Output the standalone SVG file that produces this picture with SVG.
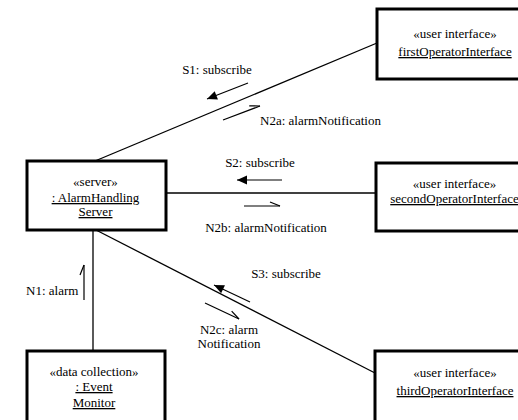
<svg xmlns="http://www.w3.org/2000/svg" width="518" height="420" viewBox="0 0 518 420">
<style>
text{font-family:"Liberation Serif","Times New Roman",serif;font-size:13px;fill:#000}
.c{text-anchor:middle}
.u{text-decoration:underline}
.box{fill:#fff;stroke:#000;stroke-width:3}
.ln{stroke:#000;stroke-width:1.3;fill:none}
.msg{stroke:#000;stroke-width:1.2;fill:none}
</style>
<defs>
<marker id="fa" markerUnits="userSpaceOnUse" markerWidth="11" markerHeight="9" refX="10" refY="4.5" orient="auto" overflow="visible">
<path d="M0,0 L10,4.5 L0,9 z" fill="#000"/>
</marker>
<marker id="ha" markerUnits="userSpaceOnUse" markerWidth="11" markerHeight="6" refX="10" refY="4" orient="auto" overflow="visible">
<path d="M10,4 L0,0" stroke="#000" stroke-width="1.2" fill="none"/>
</marker>
</defs>
<g id="connectors">
<line class="ln" x1="95" y1="161" x2="377" y2="43"/>
<line class="ln" x1="166" y1="193" x2="376" y2="193"/>
<line class="ln" x1="96" y1="230" x2="375" y2="373"/>
<line class="ln" x1="93" y1="230" x2="93" y2="351"/>
<line class="msg" x1="248" y1="83" x2="207" y2="99" marker-end="url(#fa)"/>
<line class="msg" x1="223" y1="120" x2="260" y2="106" marker-end="url(#ha)"/>
<line class="msg" x1="282" y1="180" x2="237" y2="180" marker-end="url(#fa)"/>
<line class="msg" x1="244" y1="206" x2="280" y2="206" marker-end="url(#ha)"/>
<line class="msg" x1="250" y1="302" x2="214" y2="285" marker-end="url(#fa)"/>
<line class="msg" x1="205" y1="303" x2="239" y2="319" marker-end="url(#ha)"/>
<line class="msg" x1="84" y1="300" x2="84" y2="265" marker-end="url(#ha)"/>
<text x="217" y="74" class="c">S1: subscribe</text>
<text x="260" y="125">N2a: alarmNotification</text>
<text x="260" y="167" class="c">S2: subscribe</text>
<text x="266" y="232" class="c">N2b: alarmNotification</text>
<text x="286" y="278" class="c">S3: subscribe</text>
<text x="229" y="334" class="c">N2c: alarm</text>
<text x="229" y="348" class="c">Notification</text>
<text x="26" y="295">N1: alarm</text>
</g>
<g id="firstOperatorInterface">
<rect class="box" x="377" y="9" width="158" height="70"/>
<text x="455" y="38" class="c">«user interface»</text>
<text x="455" y="56" class="c u">firstOperatorInterface</text>
</g>
<g id="alarmHandlingServer">
<rect class="box" x="27" y="161" width="139" height="69"/>
<text x="95.5" y="186" class="c">«server»</text>
<text x="95.5" y="202" class="c u">: AlarmHandling</text>
<text x="95.5" y="216" class="c u">Server</text>
</g>
<g id="secondOperatorInterface">
<rect class="box" x="376" y="163" width="158" height="68"/>
<text x="454.5" y="188" class="c">«user interface»</text>
<text x="454.5" y="203" class="c u">secondOperatorInterface</text>
</g>
<g id="eventMonitor">
<rect class="box" x="27" y="351" width="138" height="90"/>
<text x="94" y="376" class="c">«data collection»</text>
<text x="94" y="391" class="c u">: Event</text>
<text x="94" y="407" class="c u">Monitor</text>
</g>
<g id="thirdOperatorInterface">
<rect class="box" x="375" y="351" width="158" height="90"/>
<text x="455" y="377" class="c">«user interface»</text>
<text x="455" y="395" class="c u">thirdOperatorInterface</text>
</g>
</svg>
